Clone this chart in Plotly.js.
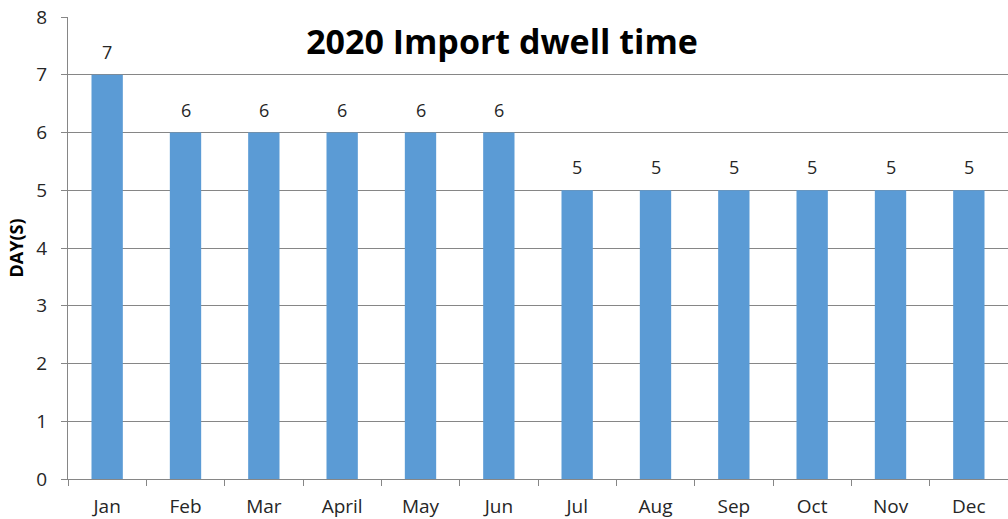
<!DOCTYPE html>
<html><head><meta charset="utf-8">
<script src="https://cdn.plot.ly/plotly-3.0.1.min.js"></script>
<style>html,body{margin:0;padding:0;background:#fff;}#chart{width:1008px;height:519px;}</style>
</head><body><div id="chart"></div>
<script>
const months = ["Jan","Feb","Mar","April","May","Jun","Jul","Aug","Sep","Oct","Nov","Dec"];
const dwellDays = [7,6,6,6,6,6,5,5,5,5,5,5];
const yTicks = [0,1,2,3,4,5,6,7,8];
const chartTitle = "2020 Import dwell time";
const yTitle = "DAY(S)";

const font = "'Open Sans', sans-serif";
const annotations = months.map((m,i)=>({
  x: m, y: dwellDays[i], xref:'x', yref:'y', text: String(dwellDays[i]),
  showarrow:false, yanchor:'middle', yshift:23,
  font:{family:font, size:18, color:'#262626'}
}));

Plotly.newPlot('chart', [{
  type:'bar', x: months, y: dwellDays,
  marker:{color:'#5B9BD5'}, hoverinfo:'none'
}], {
  width:1008, height:519,
  margin:{l:68, r:0, t:17, b:40, pad:0},
  paper_bgcolor:'#fff', plot_bgcolor:'#fff',
  bargap:0.6,
  showlegend:false,
  font:{family:font, size:18, color:'#262626'},
  title:{
    text: chartTitle, xref:'container', yref:'container', x:502/1008, y:1-42/519,
    xanchor:'center', yanchor:'middle',
    font:{family:font, size:34, color:'#000', weight:'bold'}
  },
  xaxis:{
    type:'category', tickson:'boundaries', ticks:'outside', ticklen:6, tickcolor:'#868686',
    showline:true, linecolor:'#868686', linewidth:1, showgrid:false,
    ticklabelstandoff:10, tickfont:{family:font, size:19, color:'#262626'},
    range:[-0.5,11.5]
  },
  yaxis:{
    range:[0,8], tickvals:yTicks, ticks:'outside', ticklen:6, tickcolor:'#868686',
    showline:true, linecolor:'#868686', linewidth:1,
    showgrid:true, gridcolor:'#868686', gridwidth:1, zeroline:false,
    ticklabelstandoff:10, tickfont:{family:font, size:19, color:'#262626'},
    title:{text:yTitle, standoff:8, font:{family:font, size:18, color:'#000', weight:'bold'}}
  },
  annotations: annotations
}, {staticPlot:true});
</script></body></html>
